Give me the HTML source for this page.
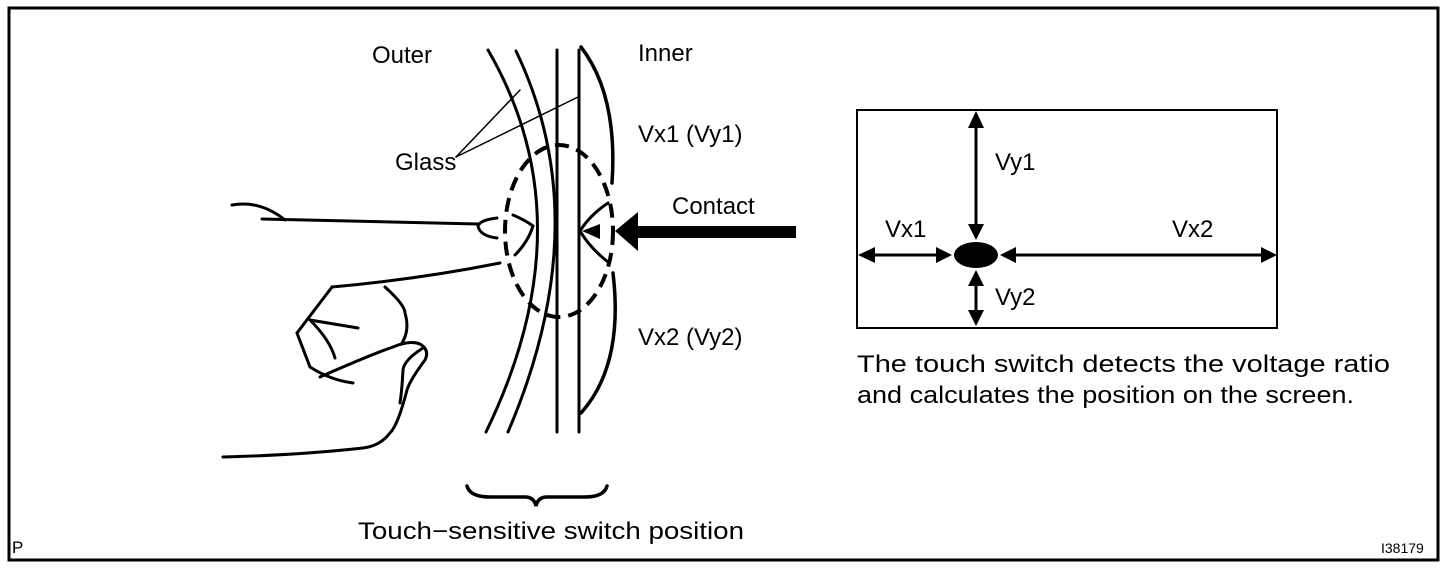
<!DOCTYPE html>
<html><head><meta charset="utf-8"><style>
html,body{margin:0;padding:0;background:#fff;}
svg{display:block;}
text{font-family:"Liberation Sans",Arial,sans-serif;fill:#000;}
</style></head><body>
<svg width="1456" height="568" viewBox="0 0 1456 568" xmlns="http://www.w3.org/2000/svg">
<rect x="9" y="8" width="1429" height="552" fill="none" stroke="#000" stroke-width="3"/>
<g fill="none" stroke="#000" stroke-linecap="round">
  <!-- glass curves -->
  <path d="M488,50 Q588,222 486,432" stroke-width="3"/>
  <path d="M516,51 Q598,222 508,432" stroke-width="3"/>
  <line x1="557" y1="50" x2="557" y2="432" stroke-width="3"/>
  <line x1="579" y1="50" x2="579" y2="432" stroke-width="3"/>
  <path d="M581,47 Q618,95 612,183" stroke-width="3.5"/>
  <path d="M613,273 Q624,365 581,413" stroke-width="3.5"/>
  <!-- dashed ellipse -->
  <ellipse cx="559" cy="231" rx="54" ry="86" stroke-width="4" stroke-dasharray="14,8" stroke-linecap="butt"/>
  <!-- glass leaders -->
  <line x1="456" y1="157" x2="520" y2="90" stroke-width="1.5"/>
  <line x1="456" y1="157" x2="578" y2="97" stroke-width="1.5"/>
  <!-- field lines -->
  <path d="M608,203 Q590,215 580,231" stroke-width="3"/>
  <path d="M608,262 Q590,248 580,231" stroke-width="3"/>
  <path d="M513,215 Q525,220 533,226" stroke-width="3"/>
  <path d="M515,255 Q528,242 533,226" stroke-width="3"/>
  <path d="M497,218 Q480,220 478,226 Q480,236 497,238" stroke-width="3"/>
  <!-- finger -->
  <path d="M232,205 Q260,200 285,220" stroke-width="3"/>
  <path d="M262,219 Q380,222 478,224" stroke-width="3"/>
  <path d="M332,287 Q420,279 500,263" stroke-width="3"/>
  <path d="M332,287 L297,333 L310,367 Q330,380 353,383" stroke-width="3"/>
  <path d="M385,287 Q405,305 405,313 Q410,330 402,343" stroke-width="3"/>
  <path d="M310,320 L358,328 M310,320 Q330,340 335,358" stroke-width="3"/>
  <path d="M320,377 Q370,355 393,347 Q410,340 420,344 Q430,350 425,360 Q410,380 407,390 Q398,425 390,433 Q380,446 363,448 Q300,455 223,457" stroke-width="3"/>
  <path d="M423,348 Q404,360 403,370 Q402,390 400,403" stroke-width="3"/>
  <!-- brace -->
  <path d="M467,486 Q470,497 490,497 L525,497 Q534,497 536,506 Q538,497 547,497 L585,497 Q604,497 607,486" stroke-width="3.5"/>
  <!-- contact arrow -->
  <line x1="796" y1="232" x2="636" y2="232" stroke-width="12" stroke-linecap="butt"/>
  <!-- right box -->
  <rect x="857" y="110" width="420" height="218" stroke-width="2"/>
  <line x1="976" y1="122" x2="976" y2="230" stroke-width="3"/>
  <line x1="976" y1="280" x2="976" y2="314" stroke-width="3"/>
  <line x1="868" y1="255" x2="940" y2="255" stroke-width="3"/>
  <line x1="1012" y1="255" x2="1266" y2="255" stroke-width="3"/>
</g>
<polygon points="615,231 638,212 638,251" fill="#000"/>
<polygon points="582,231 600,224 600,239" fill="#000"/>
<g fill="#000">
  <ellipse cx="976" cy="255" rx="22" ry="13"/>
  <polygon points="976,111 968,128 984,128"/>
  <polygon points="976,240 968,224 984,224"/>
  <polygon points="976,270 968,286 984,286"/>
  <polygon points="976,326 968,310 984,310"/>
  <polygon points="858,255 875,247 875,263"/>
  <polygon points="952,255 936,247 936,263"/>
  <polygon points="1000,255 1016,247 1016,263"/>
  <polygon points="1277,255 1261,247 1261,263"/>
</g>
<g font-size="24">
  <text x="372" y="63">Outer</text>
  <text x="638" y="61">Inner</text>
  <text x="395" y="170">Glass</text>
  <text x="638" y="142">Vx1 (Vy1)</text>
  <text x="672" y="214">Contact</text>
  <text x="638" y="345">Vx2 (Vy2)</text>
  <text x="995" y="170">Vy1</text>
  <text x="885" y="237">Vx1</text>
  <text x="1172" y="237">Vx2</text>
  <text x="995" y="305">Vy2</text>
  <text x="358" y="539" textLength="386" lengthAdjust="spacingAndGlyphs">Touch−sensitive switch position</text>
  <text x="857" y="372" textLength="533" lengthAdjust="spacingAndGlyphs">The touch switch detects the voltage ratio</text>
  <text x="857" y="403" textLength="497" lengthAdjust="spacingAndGlyphs">and calculates the position on the screen.</text>
</g>
<text x="12" y="553" font-size="17">P</text>
<text x="1381" y="553" font-size="14">I38179</text>
</svg>
</body></html>
